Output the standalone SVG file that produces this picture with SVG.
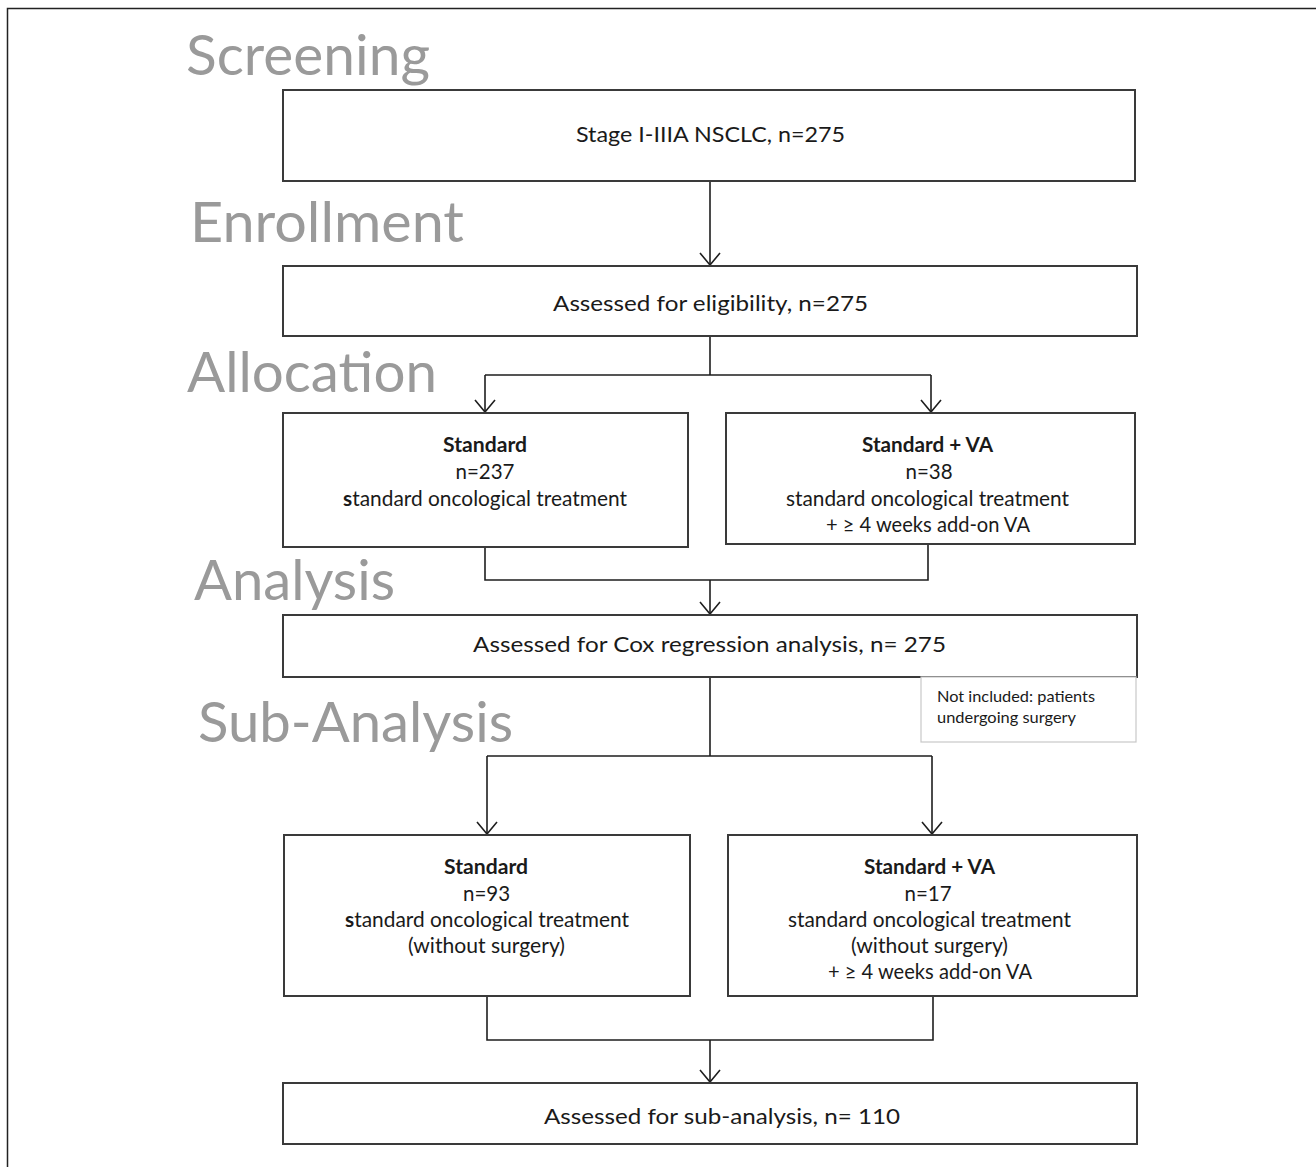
<svg xmlns="http://www.w3.org/2000/svg" width="1316" height="1167" viewBox="0 0 1316 1167">
  <style>
    .box { fill: #ffffff; stroke: #3a3a3a; stroke-width: 2; }
    .note { fill: #ffffff; stroke: #c8c8c8; stroke-width: 1.2; }
    .t { font-family: Lato, "Liberation Sans", sans-serif; font-size: 20.5px; fill: #1a1a1a; text-anchor: middle; }
    .b { font-weight: bold; }
    .n { font-family: Lato, "Liberation Sans", sans-serif; font-size: 15px; fill: #1a1a1a; }
    .h { font-family: Lato, "Liberation Sans", sans-serif; font-size: 56px; fill: #9a9a9a; }
    .c { fill: none; stroke: #1e1e1e; stroke-width: 1.6; }
  </style>
  <defs>
    <marker id="arr" markerUnits="userSpaceOnUse" markerWidth="24" markerHeight="24" refX="13" refY="11" orient="auto" viewBox="0 0 24 24">
      <path d="M1,1 L13,11 L1,21" fill="none" stroke="#1e1e1e" stroke-width="1.6"/>
    </marker>
  </defs>
  <rect x="0" y="0" width="1316" height="1167" fill="#ffffff"/>
  <rect x="7.5" y="8.5" width="1330" height="1200" fill="none" stroke="#222" stroke-width="1.5"/>

  <g id="headings">
    <text class="h" x="186" y="75" textLength="244" lengthAdjust="spacingAndGlyphs">Screening</text>
    <text class="h" x="190" y="242" textLength="274" lengthAdjust="spacingAndGlyphs">Enrollment</text>
    <text class="h" x="187" y="392" textLength="250" lengthAdjust="spacingAndGlyphs">Allocation</text>
    <text class="h" x="194" y="600" textLength="201" lengthAdjust="spacingAndGlyphs">Analysis</text>
    <text class="h" x="198" y="742" textLength="315" lengthAdjust="spacingAndGlyphs">Sub-Analysis</text>
  </g>

  <g id="connectors">
    <path class="c" d="M710,181 V265" marker-end="url(#arr)"/>
    <path class="c" d="M710,336 V375 M485,375 H931"/>
    <path class="c" d="M485,375 V412" marker-end="url(#arr)"/>
    <path class="c" d="M931,375 V412" marker-end="url(#arr)"/>
    <path class="c" d="M485,547 V580 H928 V545"/>
    <path class="c" d="M710,580 V614" marker-end="url(#arr)"/>
    <path class="c" d="M710,677 V756 M487,756 H932"/>
    <path class="c" d="M487,756 V834" marker-end="url(#arr)"/>
    <path class="c" d="M932,756 V834" marker-end="url(#arr)"/>
    <path class="c" d="M487,996 V1040 H933 V996"/>
    <path class="c" d="M710,1040 V1082" marker-end="url(#arr)"/>
  </g>

  <g id="screening">
    <rect class="box" x="283" y="90" width="852" height="91"/>
    <text class="t" x="710.5" y="142" textLength="269" lengthAdjust="spacingAndGlyphs">Stage I-IIIA NSCLC, n=275</text>
  </g>

  <g id="enrollment">
    <rect class="box" x="283" y="266" width="854" height="70"/>
    <text class="t" x="710.5" y="311" textLength="315" lengthAdjust="spacingAndGlyphs">Assessed for eligibility, n=275</text>
  </g>

  <g id="alloc-standard">
    <rect class="box" x="283" y="413" width="405" height="134"/>
    <text class="t b" x="485" y="452" textLength="84" lengthAdjust="spacingAndGlyphs">Standard</text>
    <text class="t" x="485" y="479">n=237</text>
    <text class="t" x="485" y="506" textLength="284" lengthAdjust="spacingAndGlyphs"><tspan class="b">s</tspan>tandard oncological treatment</text>
  </g>

  <g id="alloc-va">
    <rect class="box" x="726" y="413" width="409" height="131"/>
    <text class="t b" x="927.5" y="452" textLength="131" lengthAdjust="spacingAndGlyphs">Standard + VA</text>
    <text class="t" x="929" y="479">n=38</text>
    <text class="t" x="927.5" y="506" textLength="283" lengthAdjust="spacingAndGlyphs">standard oncological treatment</text>
    <text class="t" x="928" y="532" textLength="204" lengthAdjust="spacingAndGlyphs">+ ≥ 4 weeks add-on VA</text>
  </g>

  <g id="analysis">
    <rect class="box" x="283" y="615" width="854" height="62"/>
    <text class="t" x="709.5" y="652" textLength="473" lengthAdjust="spacingAndGlyphs">Assessed for Cox regression analysis, n= 275</text>
  </g>

  <g id="note">
    <rect class="note" x="921" y="677" width="215" height="65"/>
    <text class="n" x="937" y="702" textLength="158" lengthAdjust="spacingAndGlyphs">Not included: patients</text>
    <text class="n" x="937" y="723" textLength="139" lengthAdjust="spacingAndGlyphs">undergoing surgery</text>
  </g>

  <g id="sub-standard">
    <rect class="box" x="284" y="835" width="406" height="161"/>
    <text class="t b" x="486" y="874" textLength="84" lengthAdjust="spacingAndGlyphs">Standard</text>
    <text class="t" x="486.5" y="901">n=93</text>
    <text class="t" x="487" y="927" textLength="284" lengthAdjust="spacingAndGlyphs"><tspan class="b">s</tspan>tandard oncological treatment</text>
    <text class="t" x="486.5" y="953" textLength="157" lengthAdjust="spacingAndGlyphs">(without surgery)</text>
  </g>

  <g id="sub-va">
    <rect class="box" x="728" y="835" width="409" height="161"/>
    <text class="t b" x="929.5" y="874" textLength="131" lengthAdjust="spacingAndGlyphs">Standard + VA</text>
    <text class="t" x="928" y="901">n=17</text>
    <text class="t" x="929.5" y="927" textLength="283" lengthAdjust="spacingAndGlyphs">standard oncological treatment</text>
    <text class="t" x="929.5" y="953" textLength="157" lengthAdjust="spacingAndGlyphs">(without surgery)</text>
    <text class="t" x="930" y="979" textLength="204" lengthAdjust="spacingAndGlyphs">+ ≥ 4 weeks add-on VA</text>
  </g>

  <g id="sub-analysis">
    <rect class="box" x="283" y="1083" width="854" height="61"/>
    <text class="t" x="722" y="1124" textLength="356" lengthAdjust="spacingAndGlyphs">Assessed for sub-analysis, n= 110</text>
  </g>
</svg>
